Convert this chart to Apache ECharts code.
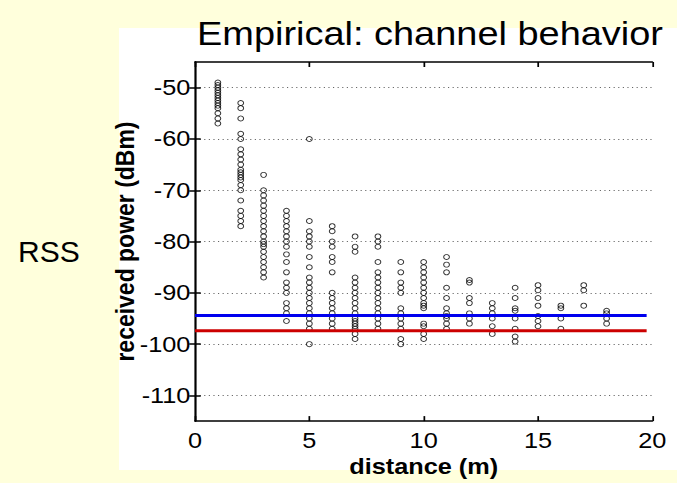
<!DOCTYPE html>
<html><head><meta charset="utf-8">
<script src="https://cdn.jsdelivr.net/npm/echarts@6/dist/echarts.min.js"></script>
<style>
html,body{margin:0;padding:0;background:#FFFFDC;overflow:hidden;width:677px;height:483px;}
#chart{width:589px;height:483px;transform:scaleX(1.15);transform-origin:0 0;}
</style>
</head><body><div id="chart"></div>
<script>
// distances (m) where measurements were taken
const distances = [1, 2, 3, 4, 5, 6, 7, 8, 9, 10, 11, 12, 13, 14, 15, 16, 17, 18];
// received power samples (dBm) for each distance
const rss1  = [-49, -49.5, -50, -50.5, -51, -51.5, -52, -52.5, -53, -53.5, -54, -55, -56, -57];
const rss2  = [-53, -54, -56, -59, -60, -62, -63, -64, -65, -66, -66.5, -67, -67.5, -68, -69, -70, -72, -74, -75, -76, -77];
const rss3  = [-67, -70, -71, -72, -73, -74, -75, -76, -77, -78, -79, -80, -80.5, -81, -82, -83, -84, -85, -86, -87];
const rss4  = [-74, -75, -76, -77, -78, -79, -80, -81, -82.5, -84, -86, -88, -89, -90, -92, -93, -94, -95.5];
const rss5  = [-60, -76, -78, -79, -80, -81, -83, -85, -87, -88, -89, -90, -91, -92, -93, -94, -95, -96, -97, -100];
const rss6  = [-77, -78, -80, -81, -83, -84, -86, -90, -91, -92, -93, -94, -95, -96, -97];
const rss7  = [-79, -81, -82, -87, -88, -89, -90, -91, -92, -93, -94, -95, -95.5, -96, -96.5, -97, -98, -99];
const rss8  = [-79, -80, -81, -84, -86, -87, -88, -89, -90, -91, -92, -93, -94, -95, -96, -97];
const rss9  = [-84, -86, -88, -89, -90, -93, -94, -95, -96, -97, -99, -100];
const rss10 = [-84, -85, -86, -87, -88, -89, -90, -91, -92, -92.5, -93, -96, -96.5, -98, -99];
const rss11 = [-83, -84.5, -86, -89, -91, -93, -94, -94.5, -95, -96, -97];
const rss12 = [-87.5, -88, -91, -92, -94, -95, -96];
const rss13 = [-92, -93, -94, -95, -96.5, -98];
const rss14 = [-89, -91, -93, -93.5, -95, -97, -98.5, -99.5];
const rss15 = [-88.5, -89.5, -91, -92.5, -94.5, -95.5, -96.5];
const rss16 = [-92.5, -93, -95, -97];
const rss17 = [-88.5, -89.5, -92.5];
const rss18 = [-93.5, -94, -95, -96];
const rssByDistance = [rss1, rss2, rss3, rss4, rss5, rss6, rss7, rss8, rss9, rss10, rss11, rss12, rss13, rss14, rss15, rss16, rss17, rss18];
// threshold lines (dBm)
const blueLevel = -94.4;
const redLevel = -97.4;
const thresholdSpan = [0, 19.75];
// tick labels
const xTicks = [0, 5, 10, 15, 20];
const yTicks = [-110, -100, -90, -80, -70, -60, -50];

const points = [];
distances.forEach((d, i) => rssByDistance[i].forEach(v => points.push([d, v])));

const S = 1.15; // horizontal stretch of the figure (applied by CSS)
const font = 'Liberation Sans, Arial, Helvetica, sans-serif';
const chart = echarts.init(document.getElementById('chart'), null, {renderer: 'svg'});
const axisLine = {show: true, lineStyle: {color: '#000', width: 1.5}};
const tickStyle = {color: '#000', width: 1.5};
chart.setOption({
  backgroundColor: '#FFFFDC',
  animation: false,
  graphic: [
    {type: 'rect', z: -100, silent: true, shape: {x: 119 / S, y: 28, width: 600 / S, height: 442}, style: {fill: '#ffffff'}},
    {type: 'text', z: 100, x: 197 / S, y: 17, style: {text: 'Empirical: channel behavior', font: '33px ' + font, fill: '#000', verticalAlign: 'top'}},
    {type: 'text', z: 100, x: 18 / S, y: 236, scaleX: 1 / S, style: {text: 'RSS', font: '30px ' + font, fill: '#000', verticalAlign: 'top'}}
  ],
  grid: {left: 195 / S, right: 25 / S, top: 62, bottom: 60, containLabel: false},
  xAxis: [{
    type: 'value', min: 0, max: 20, interval: 5, position: 'bottom',
    name: 'distance (m)', nameLocation: 'middle', nameGap: 34,
    nameTextStyle: {fontFamily: font, fontSize: 22, fontWeight: 'bold', color: '#000'},
    axisLine: axisLine,
    axisTick: {show: true, inside: true, length: 5, lineStyle: tickStyle},
    axisLabel: {show: true, customValues: xTicks, color: '#000', fontFamily: font, fontSize: 22, margin: 8},
    splitLine: {show: false}
  }, {
    type: 'value', min: 0, max: 20, interval: 5, position: 'top',
    axisLine: axisLine,
    axisTick: {show: true, inside: true, length: 5, lineStyle: tickStyle},
    axisLabel: {show: false}, splitLine: {show: false}
  }],
  yAxis: [{
    type: 'value', min: -115, max: -45, position: 'left',
    name: 'received power (dBm)', nameLocation: 'middle', nameGap: 49, nameMoveOverlap: false,
    nameTextStyle: {fontFamily: font, fontSize: 23, fontWeight: 'bold', color: '#000'},
    axisLine: axisLine,
    axisTick: {show: true, inside: true, length: 5, customValues: yTicks, lineStyle: tickStyle},
    axisLabel: {show: true, customValues: yTicks, color: '#000', fontFamily: font, fontSize: 22, margin: 4},
    splitLine: {show: true, lineStyle: {color: '#666', width: 1, type: [1, 3]}}
  }, {
    type: 'value', min: -115, max: -45, position: 'right',
    axisLine: axisLine,
    axisTick: {show: true, inside: true, length: 5, customValues: yTicks, lineStyle: tickStyle},
    axisLabel: {show: false}, splitLine: {show: false}
  }],
  series: [{
    type: 'scatter', xAxisIndex: 0, yAxisIndex: 0, data: points,
    symbol: 'circle', symbolSize: 5,
    itemStyle: {color: 'rgba(0,0,0,0)', borderColor: '#000', borderWidth: 0.9},
    z: 3
  }, {
    type: 'line', xAxisIndex: 0, yAxisIndex: 0, symbol: 'none',
    data: thresholdSpan.map(x => [x, blueLevel]),
    lineStyle: {color: '#0000EE', width: 3}, z: 4
  }, {
    type: 'line', xAxisIndex: 0, yAxisIndex: 0, symbol: 'none',
    data: thresholdSpan.map(x => [x, redLevel]),
    lineStyle: {color: '#CC0000', width: 3}, z: 4
  }]
});
</script></body></html>
